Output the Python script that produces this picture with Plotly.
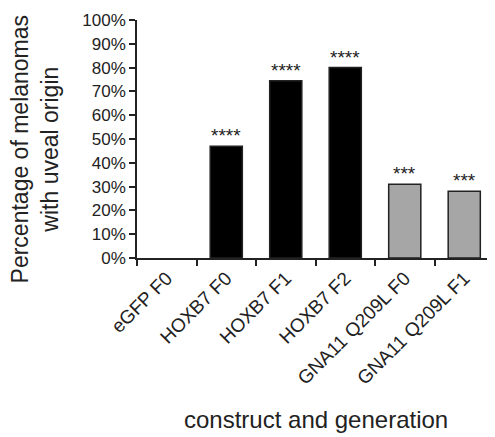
import plotly.graph_objects as go

categories = ["eGFP F0", "HOXB7 F0", "HOXB7 F1", "HOXB7 F2", "GNA11 Q209L F0", "GNA11 Q209L F1"]
values = [0, 47, 74.5, 80, 31, 28]
significance = ["", "****", "****", "****", "***", "***"]
colors = ["#000000", "#000000", "#000000", "#000000", "#a6a6a6", "#a6a6a6"]
y_ticks = list(range(0, 101, 10))
y_tick_labels = [f"{v}%" for v in y_ticks]

FONT = "Arial, Liberation Sans, sans-serif"
INK = "#222222"

fig = go.Figure()
fig.add_trace(go.Bar(
    x=categories, y=values,
    marker=dict(color=colors,
                line=dict(color=INK, width=[0 if v == 0 else 1.5 for v in values])),
    width=0.54,
))

for c, v, s in zip(categories, values, significance):
    if s:
        fig.add_annotation(x=c, y=v, text=s, showarrow=False, yanchor="bottom",
                           yshift=-2, font=dict(family=FONT, size=19, color=INK))

fig.add_annotation(text="Percentage of melanomas<br>with uveal origin", textangle=-90,
                   xref="paper", yref="paper", x=-0.286, y=0.46,
                   xanchor="center", yanchor="middle", showarrow=False,
                   font=dict(family=FONT, size=23, color=INK))
fig.add_annotation(text="construct and generation",
                   xref="paper", yref="paper", x=0.5, y=-0.68,
                   xanchor="center", yanchor="middle", showarrow=False,
                   font=dict(family=FONT, size=24, color=INK))

# page body has an 8px margin, so the figure is sized/offset to compensate
fig.update_layout(
    width=487, height=429,
    margin=dict(l=129, r=1, t=12, b=179),
    plot_bgcolor="white", paper_bgcolor="white",
    showlegend=False,
    font=dict(family=FONT, color=INK),
    xaxis=dict(
        type="category", tickangle=-45, tickson="boundaries",
        ticks="outside", ticklen=6, tickwidth=1.5, tickcolor=INK,
        showline=True, linecolor=INK, linewidth=1.5,
        tickfont=dict(size=19, family=FONT, color=INK),
        automargin=False, showgrid=False,
    ),
    yaxis=dict(
        range=[0, 100], tickvals=y_ticks, ticktext=y_tick_labels,
        ticks="outside", ticklen=6, tickwidth=1.5, tickcolor=INK,
        showline=True, linecolor=INK, linewidth=1.5,
        tickfont=dict(size=17, family=FONT, color=INK),
        automargin=False, showgrid=False, zeroline=False,
    ),
)

fig.write_html("out.html")
